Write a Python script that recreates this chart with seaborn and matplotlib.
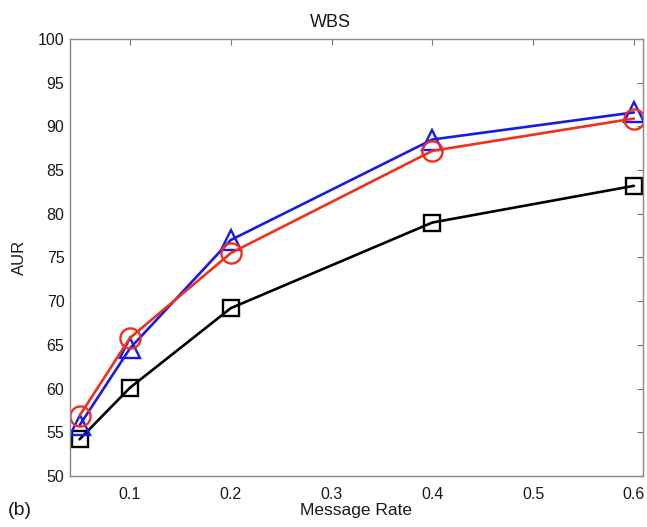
import matplotlib
matplotlib.use("Agg")
import matplotlib.pyplot as plt
import seaborn as sns
import pandas as pd

# Message rates and AUR scores for the three methods
message_rate = [0.05, 0.1, 0.2, 0.4, 0.6]
aur_black = [54.2, 60.1, 69.2, 79.0, 83.2]
aur_blue = [55.8, 64.6, 77.0, 88.5, 91.6]
aur_red = [56.9, 65.8, 75.5, 87.2, 90.9]

x_ticks = [0.1, 0.2, 0.3, 0.4, 0.5, 0.6]
y_ticks = [50, 55, 60, 65, 70, 75, 80, 85, 90, 95, 100]

sns.set_style("white")
plt.rcParams["font.family"] = ["Liberation Sans", "DejaVu Sans"]

fig = plt.figure(figsize=(6.47, 5.27), dpi=100)
ax = fig.add_axes([0.1082, 0.0968, 0.8856, 0.8292])

series = [
    (aur_black, "black", "s", 11.5),
    (aur_blue, "#1a1ae6", "^", 14.5),
    (aur_red, "#f0301e", "o", 14.5),
]
for values, color, marker, msize in series:
    df = pd.DataFrame({"rate": message_rate, "aur": values})
    sns.lineplot(data=df, x="rate", y="aur", ax=ax, color=color,
                 linewidth=1.9, marker=marker, markersize=msize,
                 markerfacecolor="none", markeredgecolor=color,
                 markeredgewidth=1.7)

ax.set_xlim(0.0405, 0.609)
ax.set_ylim(50, 100)
ax.set_xticks(x_ticks)
ax.set_xticklabels(["0.1", "0.2", "0.3", "0.4", "0.5", "0.6"])
ax.set_yticks(y_ticks)
ax.tick_params(direction="in", length=4, width=0.8, color="#777777",
               labelsize=11.5, top=True, right=True, labelcolor="#1a1a1a")
ax.tick_params(axis="x", pad=8)
ax.tick_params(axis="y", pad=4)
for spine in ax.spines.values():
    spine.set_color("#888888")
    spine.set_linewidth(1.0)

ax.set_xlabel("Message Rate", fontsize=12.5, color="#1a1a1a", labelpad=1)
ax.set_ylabel("AUR", fontsize=12, color="#1a1a1a", labelpad=8)
fig.text(0.51, 0.949, "WBS", fontsize=13, color="#1a1a1a",
         ha="center", va="baseline")
fig.text(0.012, 0.022, "(b)", fontsize=14, color="#1a1a1a")

fig.savefig("out.png", dpi=100)
